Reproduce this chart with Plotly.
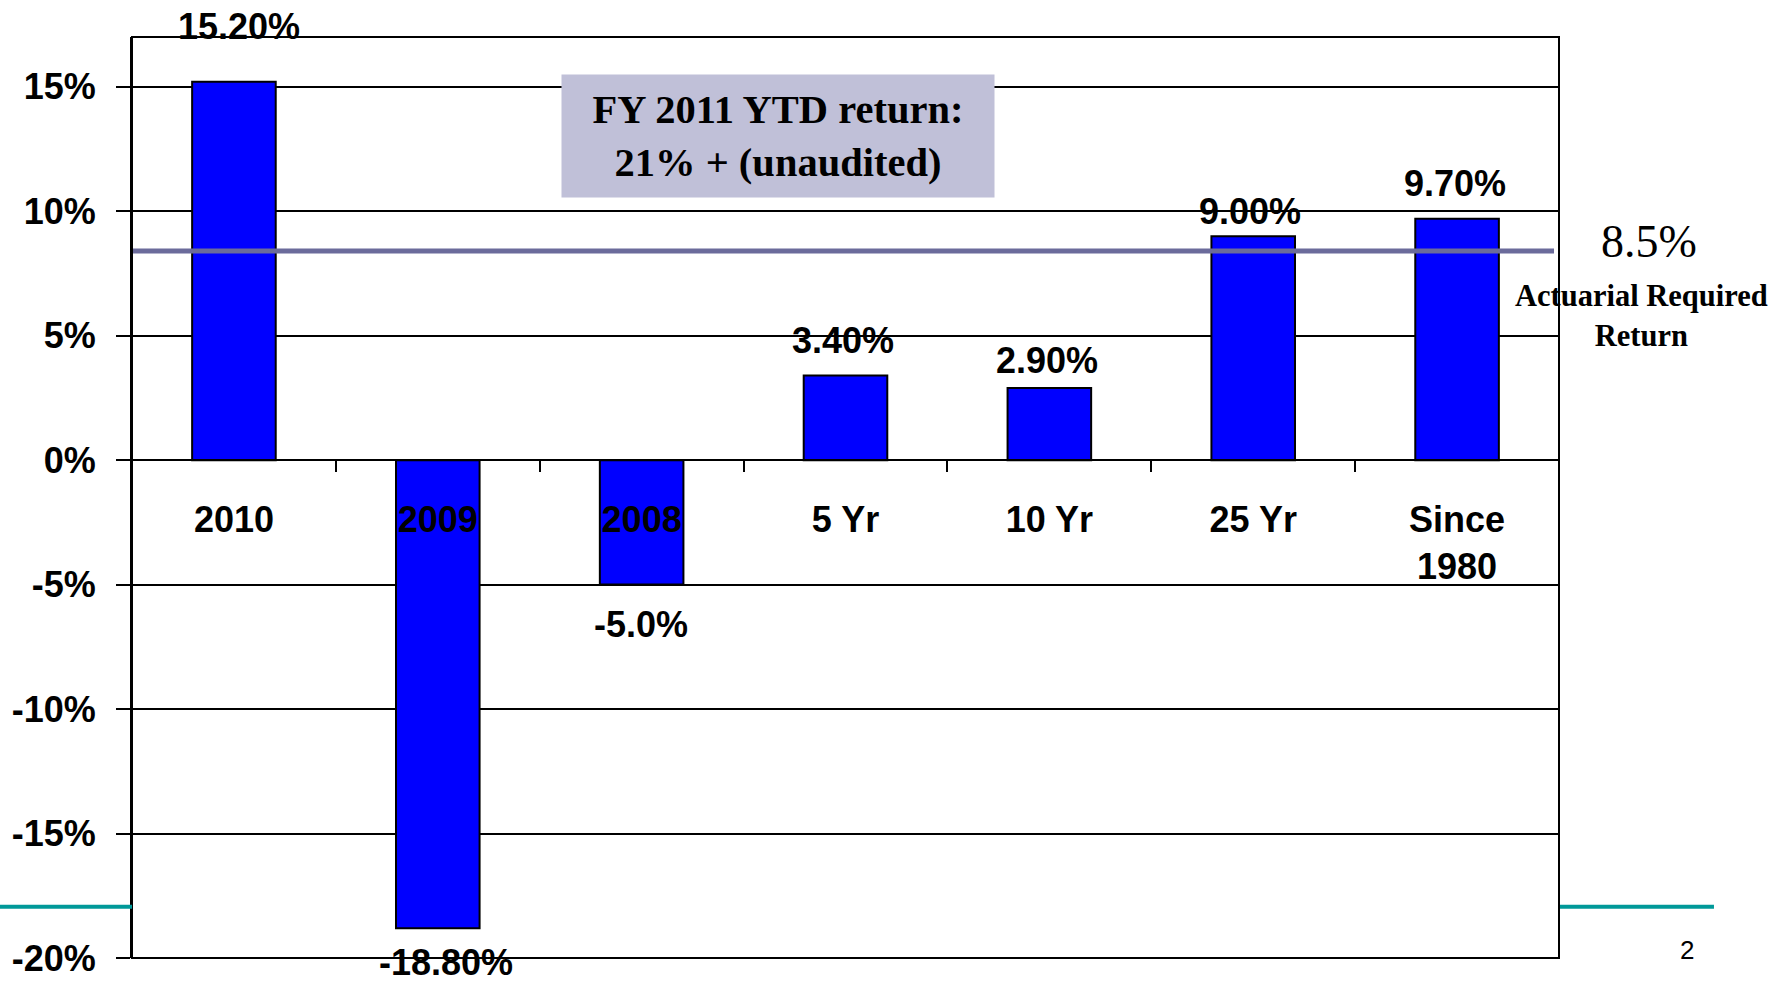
import plotly.graph_objects as go

# ---------------- data ----------------
categories = ["2010", "2009", "2008", "5 Yr", "10 Yr", "25 Yr", "Since 1980"]
category_tick_text = ["2010", "2009", "2008", "5 Yr", "10 Yr", "25 Yr", "Since<br>1980"]
returns = [15.2, -18.8, -5.0, 3.4, 2.9, 9.0, 9.7]
value_labels = ["15.20%", "-18.80%", "-5.0%", "3.40%", "2.90%", "9.00%", "9.70%"]
required_line_level = 8.4
required_label = "8.5%"
required_caption = "Actuarial Required<br>Return"
ytd_note = "FY 2011 YTD return:<br>21% + (unaudited)"
y_tick_vals = [-20, -15, -10, -5, 0, 5, 10, 15]
y_tick_text = ["-20%", "-15%", "-10%", "-5%", "0%", "5%", "10%", "15%"]
y_range = [-20, 17]
page_number = "2"

# ---------------- styles ----------------
SANS = "Liberation Sans, Arial, sans-serif"
SERIF = "Liberation Serif, Times New Roman, serif"
label_yshift = [55.5, -34, -40, 35.3, 27.7, 25, 35.7]
label_xshift = [5, 8, -1, -3, -2, -3, -2]

fig = go.Figure()
fig.add_trace(go.Bar(
    x=categories, y=returns,
    marker=dict(color="#0000FF", line=dict(color="#000000", width=2)),
    hoverinfo="skip", showlegend=False,
))

# data labels (category index positions on the category axis)
for idx, (val, txt, ys, xs) in enumerate(zip(returns, value_labels, label_yshift, label_xshift)):
    fig.add_annotation(
        x=idx, y=val, xref="x", yref="y", text=txt, showarrow=False,
        xanchor="center", yanchor="middle", yshift=ys, xshift=xs,
        font=dict(family=SANS, size=36, color="black", weight="bold"),
    )

# required-return line
fig.add_shape(type="line", xref="x domain", yref="y",
              x0=0, x1=0.9965, y0=required_line_level, y1=required_line_level,
              line=dict(color="#6B6B9B", width=5), layer="above")

# plot border
fig.add_shape(type="rect", xref="x domain", yref="y domain", x0=0, x1=1, y0=0, y1=1,
              line=dict(color="black", width=2), layer="above")

# teal decorative lines
fig.add_shape(type="line", xref="paper", yref="paper", x0=-0.0925, x1=0, y0=0.0557, y1=0.0557,
              line=dict(color="#009999", width=4))
fig.add_shape(type="line", xref="paper", yref="paper", x0=1.0007, x1=1.1086, y0=0.0557, y1=0.0557,
              line=dict(color="#009999", width=4))

# YTD note box
fig.add_annotation(
    xref="paper", yref="paper", x=0.4527, y=0.8925, text=ytd_note, showarrow=False,
    xanchor="center", yanchor="middle", width=432, height=122, borderpad=0,
    bgcolor="#C0C0D8", align="center",
    font=dict(family=SERIF, size=40.5, color="black", weight="bold"),
)

# right side labels
fig.add_annotation(
    xref="paper", yref="paper", x=1.0631, y=0.7785, text=required_label, showarrow=False,
    xanchor="center", yanchor="middle",
    font=dict(family=SERIF, size=46, color="black"),
)
fig.add_annotation(
    xref="paper", yref="paper", x=1.0578, y=0.6976, text=required_caption, showarrow=False,
    xanchor="center", yanchor="middle", align="center",
    font=dict(family=SERIF, size=30.5, color="black", weight="bold"),
)
fig.add_annotation(
    xref="paper", yref="paper", x=1.0897, y=0.009, text=page_number, showarrow=False,
    xanchor="center", yanchor="middle",
    font=dict(family=SANS, size=26, color="black"),
)

fig.update_layout(
    width=1788, height=984,
    margin=dict(l=132, r=229, t=37, b=26, pad=0, autoexpand=False),
    plot_bgcolor="white", paper_bgcolor="white",
    bargap=0.59,
    xaxis=dict(
        type="category", categoryorder="array", categoryarray=categories,
        range=[-0.5, len(categories) - 0.5], autorange=False,
        tickmode="array", tickvals=categories, ticktext=category_tick_text,
        tickangle=0, automargin=False,
        anchor="free", position=(0 - y_range[0]) / (y_range[1] - y_range[0]),
        showline=True, linecolor="black", linewidth=2,
        ticks="outside", tickson="boundaries", ticklen=11, tickwidth=2, tickcolor="black",
        ticklabelstandoff=28,
        tickfont=dict(family=SANS, size=36, color="black", weight="bold"),
        showgrid=False, zeroline=False,
    ),
    yaxis=dict(
        range=y_range, autorange=False, tickmode="array", tickvals=y_tick_vals, ticktext=y_tick_text,
        automargin=False,
        showgrid=True, gridcolor="black", gridwidth=2,
        zeroline=False, showline=True, linecolor="black", linewidth=2,
        ticks="outside", ticklen=14, tickwidth=2, tickcolor="black",
        ticklabelstandoff=13,
        tickfont=dict(family=SANS, size=36, color="black", weight="bold"),
    ),
)

fig.write_html("out.html", config={"displayModeBar": False},
               post_script="document.body.style.margin='0';document.body.style.overflow='hidden';")
